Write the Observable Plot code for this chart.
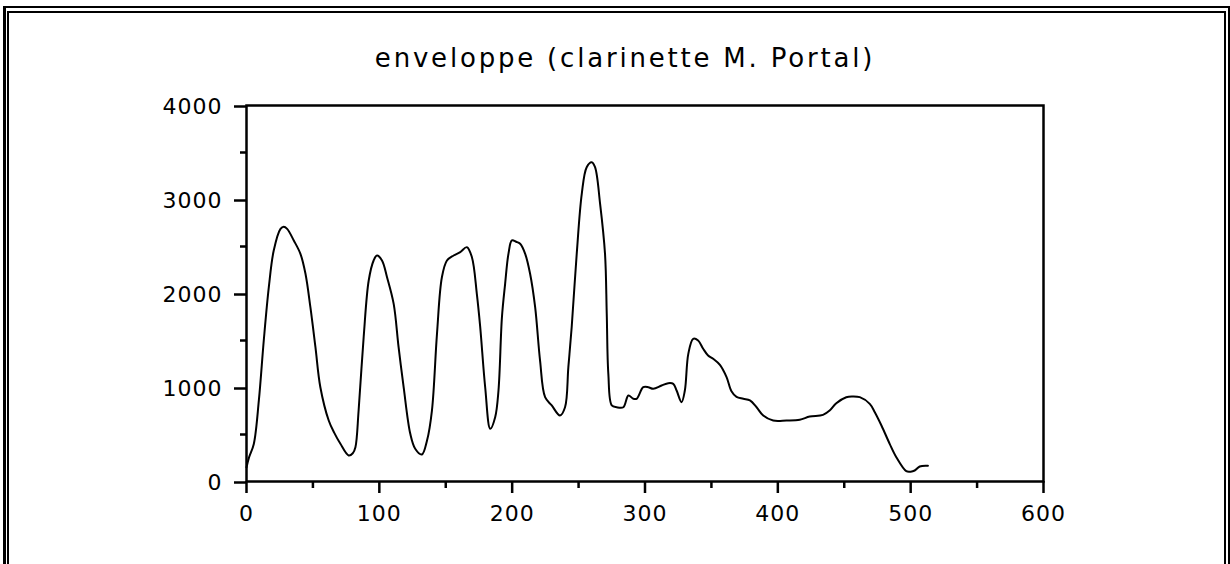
<!DOCTYPE html>
<html>
<head>
<meta charset="utf-8">
<script src="https://cdn.jsdelivr.net/npm/d3@7"></script>
<script src="https://cdn.jsdelivr.net/npm/@observablehq/plot@0.6"></script>
<style>
  html, body { margin: 0; padding: 0; background: #fff; overflow: hidden; }
  #wrap { position: relative; width: 1230px; height: 564px; overflow: hidden; }
  .frame { position: absolute; box-sizing: border-box; border: 2px solid #000; height: 700px; }
  #outer { left: 3px; top: 6px; width: 1227px; border-left-width: 3px; }
  #inner { left: 7px; top: 11px; width: 1219px; }
  #title { position: absolute; left: 275px; width: 700px; top: 45px; text-align: center;
           font-family: "DejaVu Sans", sans-serif; font-size: 26px; line-height: 26px;
           letter-spacing: 2.8px; color: #000; white-space: nowrap; }
  #chart { position: absolute; left: 0; top: 0; }
  #chart svg text { letter-spacing: 1px; }
</style>
</head>
<body>
<div id="wrap">
  <div class="frame" id="outer"></div>
  <div class="frame" id="inner"></div>
  <div id="title"></div>
  <div id="chart"></div>
</div>
<script>
const titleText = "enveloppe (clarinette M. Portal)";

const xValues = [0, 2, 5.5, 9.3, 13, 16.8, 20.5, 25.6, 28, 30.6, 35.6, 40.6, 44.4, 48.1, 51.9, 55.6, 61.9, 66, 70.7, 76.9, 80, 82, 84.4, 88.2, 92, 95.7, 98.2, 102, 105.8, 110.8, 114.5, 118.3, 123.3, 127, 132, 135.9, 139.6, 143.4, 147.1, 150.9, 155.9, 160.9, 165.9, 169.7, 173.4, 175.9, 179.7, 183.5, 187.2, 189.7, 192.3, 194.7, 197.2, 199.8, 203, 206, 209.8, 213.5, 217.3, 221, 224.8, 229.8, 236, 239.8, 242.3, 244.8, 248.6, 252.4, 256.1, 259.9, 262.4, 266.2, 269.9, 271.2, 272.4, 275, 278.7, 283.7, 287.5, 291.2, 293.7, 298.7, 302.5, 306.2, 312.5, 317.5, 321.3, 323.8, 327.5, 330, 332.6, 336.3, 340, 343.8, 347.5, 351.3, 356.4, 361.4, 365.1, 368.9, 374, 379, 384, 389, 396.5, 406.5, 416.5, 424, 434, 439, 444, 451.5, 456, 461.7, 469.2, 473, 478, 484.2, 489.2, 496.7, 500, 503, 506.8, 513];

const yValues = [150, 260, 400, 862, 1500, 2067, 2457, 2688, 2710, 2688, 2564, 2422, 2210, 1854, 1429, 1003, 649, 520, 401, 277, 300, 365, 755, 1535, 2138, 2351, 2404, 2351, 2173, 1890, 1429, 1003, 507, 348, 287, 436, 755, 1571, 2173, 2351, 2404, 2440, 2493, 2386, 1997, 1650, 1000, 560, 684, 968, 1748, 2103, 2422, 2564, 2550, 2529, 2422, 2210, 1854, 1287, 897, 809, 702, 790, 1216, 1641, 2422, 3060, 3344, 3397, 3344, 2954, 2422, 1784, 1145, 809, 790, 790, 915, 880, 880, 1003, 1003, 986, 1021, 1046, 1039, 968, 844, 968, 1358, 1518, 1500, 1412, 1340, 1305, 1240, 1110, 960, 900, 880, 862, 790, 702, 649, 649, 656, 691, 709, 755, 833, 897, 905, 897, 826, 737, 596, 401, 259, 110, 105, 117, 160, 167];

const xMajorTicks = [0, 100, 200, 300, 400, 500, 600];
const xMinorTicks = [50, 150, 250, 350, 450, 550];
const yMajorTicks = [0, 1000, 2000, 3000, 4000];
const yMinorTicks = [500, 1500, 2500, 3500];

document.getElementById("title").textContent = titleText;

const data = xValues.map((x, i) => ({x, y: yValues[i]}));

const chart = Plot.plot({
  width: 1230,
  height: 564,
  marginLeft: 246,
  marginRight: 187,
  marginTop: 105,
  marginBottom: 83,
  x: {domain: [0, 600]},
  y: {domain: [0, 4000]},
  style: {fontFamily: "DejaVu Sans, sans-serif", fontSize: "22px", color: "#000", background: "transparent", overflow: "visible"},
  marks: [
    Plot.frame({stroke: "#000", strokeWidth: 2.5}),
    Plot.axisX({ticks: xMajorTicks, tickSize: 12, tickPadding: 12, strokeWidth: 2.5, tickFormat: d => String(d), label: null, fontSize: 22}),
    Plot.axisX({ticks: xMinorTicks, tickSize: 7, strokeWidth: 2.5, text: null, label: null}),
    Plot.axisY({ticks: yMajorTicks, tickSize: 12, tickPadding: 12, strokeWidth: 2.5, tickFormat: d => String(d), label: null, fontSize: 22, dy: 1}),
    Plot.axisY({ticks: yMinorTicks, tickSize: 6, strokeWidth: 2.5, text: null, label: null}),
    Plot.line(data, {x: "x", y: "y", stroke: "#000", strokeWidth: 2, curve: "catmull-rom"})
  ]
});
document.getElementById("chart").appendChild(chart);
</script>
</body>
</html>
